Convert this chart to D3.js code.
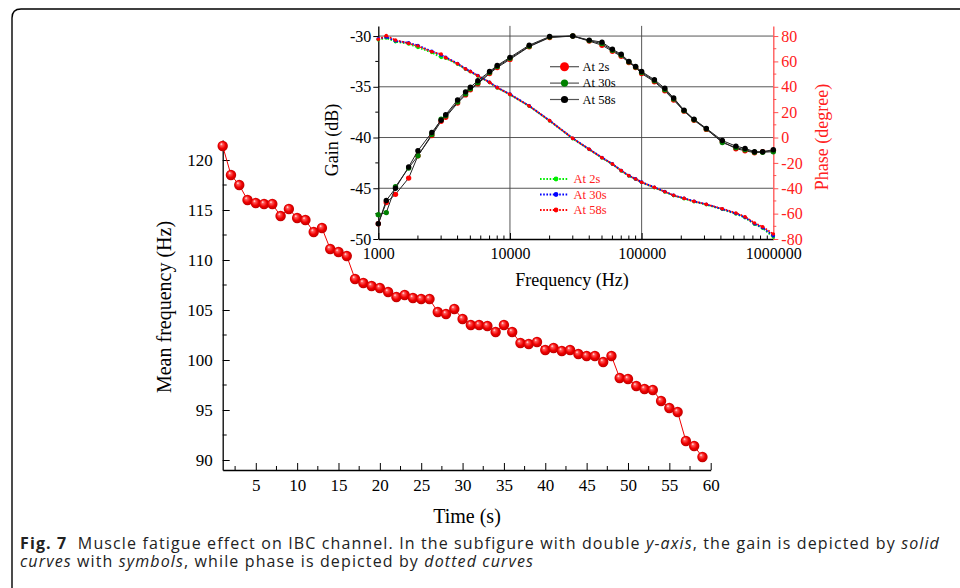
<!DOCTYPE html>
<html>
<head>
<meta charset="utf-8">
<script src="https://cdn.jsdelivr.net/npm/d3@7"></script>
<style>
  body { margin:0; background:#fff; }
  svg text { font-family:'Liberation Serif', 'Times New Roman', serif; }
  svg text.cap { font-family:'Open Sans', 'Noto Sans', sans-serif; }
</style>
</head>
<body>
<script>
// mean frequency vs time (main chart)
var times = d3.range(1, 60);
var meanFreq = [121.4,118.5,117.5,116.0,115.7,115.6,115.6,114.4,115.1,114.2,
  114.0,112.8,113.2,111.1,110.8,110.4,108.1,107.7,107.4,107.2,
  106.8,106.3,106.5,106.2,106.1,106.1,104.8,104.6,105.1,104.1,
  103.5,103.5,103.4,102.8,103.5,102.8,101.7,101.6,101.8,101.0,
  101.2,100.9,101.0,100.6,100.4,100.4,99.8,100.4,98.2,98.1,
  97.4,97.1,97.0,95.9,95.2,94.8,91.9,91.4,90.3];
var timeTicks = [5,10,15,20,25,30,35,40,45,50,55,60];
var freqTicks = [90,95,100,105,110,115,120];

// inset: gain and phase vs frequency
var freqs = [1000,1150,1350,1700,2000,2550,3000,3250,4000,4600,5000,5700,7000,8000,10000,14000,20000,
  30000,40000,50000,60000,70000,80000,90000,100000,125000,150000,175000,210000,250000,310000,
  410000,520000,610000,720000,830000,1000000];
var gain2s = [-48.5,-46.4,-45.6,-44.0,-41.8,-39.8,-38.4,-38.0,-36.6,-35.8,-35.3,-34.7,-33.7,-33.1,-32.3,-31.05,-30.15,
  -30.0,-30.5,-30.9,-31.5,-32.0,-32.6,-33.1,-33.7,-34.5,-35.4,-36.3,-37.4,-38.3,-39.2,
  -40.4,-41.1,-41.3,-41.5,-41.4,-41.3];
var gain30s = [-47.6,-47.4,-44.85,-43.0,-41.8,-39.7,-38.2,-37.85,-36.5,-35.7,-35.2,-34.6,-33.6,-33.0,-32.2,-31.0,-30.1,
  -30.0,-30.45,-30.75,-31.4,-31.9,-32.55,-33.05,-33.6,-34.4,-35.3,-36.2,-37.35,-38.25,-39.15,
  -40.5,-41.0,-41.2,-41.45,-41.45,-41.4];
var gain58s = [-48.5,-46.2,-45.0,-42.9,-41.3,-39.5,-38.3,-37.75,-36.3,-35.5,-35.05,-34.4,-33.5,-32.9,-32.1,-30.9,-30.05,
  -30.0,-30.4,-30.6,-31.3,-31.8,-32.5,-33.0,-33.5,-34.3,-35.15,-36.1,-37.3,-38.2,-39.1,
  -40.3,-40.85,-41.07,-41.4,-41.4,-41.2];
var phase2s = [77.0,78.5,75.6,73.8,71.0,67.0,63.2,62.5,57.8,53.8,51.8,48.5,43.3,39.1,33.8,24.7,13.1,
  -0.9,-9.5,-16.1,-21.1,-26.3,-30.3,-32.9,-35.5,-39.5,-42.9,-45.8,-48.2,-50.6,-53.0,
  -56.6,-60.2,-63.2,-68.4,-71.5,-78.5];
var phase30s = [77.8,79.2,76.2,74.6,72.6,68.0,65.0,63.3,58.4,54.2,52.2,48.9,43.6,39.5,34.2,25.0,13.4,
  -0.6,-9.2,-15.8,-20.8,-26.0,-30.0,-32.6,-35.2,-39.2,-42.6,-45.5,-47.9,-50.2,-52.6,
  -56.4,-59.9,-62.9,-68.0,-71.0,-77.5];
var phase58s = [77.4,80.3,76.8,74.2,72.1,67.6,65.8,62.9,58.2,54.0,52.0,48.7,43.5,39.3,34.0,24.9,13.3,
  -0.7,-9.3,-15.9,-20.9,-26.1,-30.1,-32.7,-35.3,-39.3,-42.7,-45.6,-48.0,-50.3,-52.7,
  -56.1,-59.5,-62.4,-67.4,-70.3,-76.1];
var hzTicks = [1000,10000,100000,1000000];
var gainTicks = [-50,-45,-40,-35,-30];
var phaseTicks = [-80,-60,-40,-20,0,20,40,60,80];
var labels = ['At 2s','At 30s','At 58s'];

// plain hyphen for negatives, like the original
var plain = function(d) { return String(d); };

var svg = d3.select('body').append('svg')
  .attr('width', 960)
  .attr('height', 588);

var defs = svg.append('defs');
var grad = defs.append('radialGradient')
  .attr('id', 'ball')
  .attr('cx', '50%').attr('cy', '50%').attr('r', '55%')
  .attr('fx', '35%').attr('fy', '30%');
grad.append('stop').attr('offset', '0%').attr('stop-color', '#ffffff');
grad.append('stop').attr('offset', '22%').attr('stop-color', '#ff5a5a');
grad.append('stop').attr('offset', '60%').attr('stop-color', '#f00000');
grad.append('stop').attr('offset', '100%').attr('stop-color', '#b30000');

// frame
svg.append('path')
  .attr('d', 'M12,588 V18 Q12,9 21,9 H960')
  .attr('fill', 'none')
  .attr('stroke', '#000')
  .attr('stroke-width', 1.4);

// ---------- main chart ----------
var x = d3.scaleLinear().domain([1, 60]).range([222.7, 710.7]);
var y = d3.scaleLinear().domain([89, 122]).range([470, 140]);

var main = svg.append('g');

var xAxis = main.append('g')
  .attr('transform', 'translate(0,470)')
  .call(d3.axisBottom(x).tickValues(timeTicks).tickFormat(plain).tickSize(-7).tickPadding(9).tickSizeOuter(0));
xAxis.selectAll('text').style('font-size', '17px').attr('fill', '#000');
xAxis.append('g').selectAll('line')
  .data(d3.range(2.5, 60, 5))
  .enter().append('line')
  .attr('x1', function(d) { return x(d); })
  .attr('x2', function(d) { return x(d); })
  .attr('y1', 0).attr('y2', -4)
  .attr('stroke', '#000');

var yAxis = main.append('g')
  .attr('transform', 'translate(222.7,0)')
  .call(d3.axisLeft(y).tickValues(freqTicks).tickFormat(plain).tickSize(-7).tickPadding(10).tickSizeOuter(0));
yAxis.selectAll('text').style('font-size', '17px').attr('fill', '#000');
yAxis.append('g').selectAll('line')
  .data(d3.range(92.5, 122, 5))
  .enter().append('line')
  .attr('y1', function(d) { return y(d); })
  .attr('y2', function(d) { return y(d); })
  .attr('x1', 0).attr('x2', 4)
  .attr('stroke', '#000');
main.selectAll('.domain').attr('stroke-width', 1.3);

main.append('path')
  .datum(meanFreq)
  .attr('fill', 'none')
  .attr('stroke', '#f00000')
  .attr('stroke-width', 1)
  .attr('d', d3.line()
    .x(function(d, i) { return x(times[i]); })
    .y(function(d) { return y(d); }));

main.selectAll('circle.ball')
  .data(meanFreq)
  .enter().append('circle')
  .attr('class', 'ball')
  .attr('cx', function(d, i) { return x(times[i]); })
  .attr('cy', function(d) { return y(d); })
  .attr('r', 5.2)
  .attr('fill', 'url(#ball)');

main.append('text')
  .text('Time (s)')
  .attr('x', 467).attr('y', 523)
  .style('font-size', '20px')
  .style('text-anchor', 'middle');

main.append('text')
  .text('Mean frequency (Hz)')
  .attr('transform', 'translate(171,307) rotate(-90)')
  .style('font-size', '20px')
  .style('text-anchor', 'middle');

// ---------- inset ----------
var fx = d3.scaleLog().domain([1000, 1000000]).range([378.3, 773.3]);
var gy = d3.scaleLinear().domain([-50, -29]).range([239, 25.9]);
var py = d3.scaleLinear().domain([-80, 88]).range([239, 25.9]);

var inset = svg.append('g');

// grid
inset.append('g').selectAll('line')
  .data([-45, -40, -35, -30])
  .enter().append('line')
  .attr('x1', fx(1000)).attr('x2', fx(1000000))
  .attr('y1', function(d) { return gy(d); })
  .attr('y2', function(d) { return gy(d); })
  .attr('stroke', '#444').attr('stroke-width', 0.9);
inset.append('g').selectAll('line')
  .data([10000, 100000])
  .enter().append('line')
  .attr('x1', function(d) { return fx(d); })
  .attr('x2', function(d) { return fx(d); })
  .attr('y1', gy(-50)).attr('y2', gy(-29))
  .attr('stroke', '#444').attr('stroke-width', 0.9);

var fAxis = inset.append('g')
  .attr('transform', 'translate(0,239)')
  .call(d3.axisBottom(fx).tickValues(hzTicks).tickFormat(plain).tickSize(-6).tickPadding(9).tickSizeOuter(0));
fAxis.selectAll('text').style('font-size', '16px').attr('fill', '#000');
var minorHz = [];
[1000, 10000, 100000].forEach(function(dec) {
  for (var k = 2; k < 10; k++) minorHz.push(dec * k);
});
fAxis.append('g').selectAll('line')
  .data(minorHz)
  .enter().append('line')
  .attr('x1', function(d) { return fx(d); })
  .attr('x2', function(d) { return fx(d); })
  .attr('y1', 0).attr('y2', -3.5)
  .attr('stroke', '#000');

var gAxis = inset.append('g')
  .attr('transform', 'translate(378.3,0)')
  .call(d3.axisLeft(gy).tickValues(gainTicks).tickFormat(plain).tickSize(5).tickPadding(2).tickSizeOuter(0));
gAxis.selectAll('text').style('font-size', '16px').attr('fill', '#000');
gAxis.append('g').selectAll('line')
  .data([-47.5, -42.5, -37.5, -32.5])
  .enter().append('line')
  .attr('y1', function(d) { return gy(d); })
  .attr('y2', function(d) { return gy(d); })
  .attr('x1', 0).attr('x2', -3)
  .attr('stroke', '#000');

var pAxis = inset.append('g')
  .attr('transform', 'translate(773.3,0)')
  .call(d3.axisRight(py).tickValues(phaseTicks).tickFormat(plain).tickSize(5).tickPadding(3).tickSizeOuter(0));
pAxis.selectAll('text').style('font-size', '16px').attr('fill', '#ff2020');
pAxis.selectAll('line').attr('stroke', '#ff5050');
pAxis.select('.domain').attr('stroke', '#ff5050');
pAxis.append('g').selectAll('line')
  .data(d3.range(-70, 88, 20))
  .enter().append('line')
  .attr('y1', function(d) { return py(d); })
  .attr('y2', function(d) { return py(d); })
  .attr('x1', 0).attr('x2', 3)
  .attr('stroke', '#ff5050');
inset.selectAll('.domain').attr('stroke-width', 1.3);

// phase curves (dotted)
var phaseSeries = [
  {vals: phase2s, color: '#00ee00'},
  {vals: phase30s, color: '#0000ff'},
  {vals: phase58s, color: '#ff0000'}
];
var phaseLine = d3.line()
  .x(function(d, i) { return fx(freqs[i]); })
  .y(function(d) { return py(d); });
phaseSeries.forEach(function(s) {
  inset.append('path')
    .datum(s.vals)
    .attr('fill', 'none')
    .attr('stroke', s.color)
    .attr('stroke-width', 1.8)
    .attr('stroke-dasharray', '1.6,1.6')
    .attr('d', phaseLine);
  inset.append('g').selectAll('circle')
    .data(s.vals)
    .enter().append('circle')
    .attr('cx', function(d, i) { return fx(freqs[i]); })
    .attr('cy', function(d) { return py(d); })
    .attr('r', 1.8)
    .attr('fill', s.color);
});

// gain curves (solid with symbols)
var gainSeries = [
  {vals: gain2s, color: '#ff0000'},
  {vals: gain30s, color: '#008000'},
  {vals: gain58s, color: '#000000'}
];
var gainLine = d3.line()
  .x(function(d, i) { return fx(freqs[i]); })
  .y(function(d) { return gy(d); });
gainSeries.forEach(function(s) {
  inset.append('path')
    .datum(s.vals)
    .attr('fill', 'none')
    .attr('stroke', '#222')
    .attr('stroke-width', 1)
    .attr('d', gainLine);
  inset.append('g').selectAll('circle')
    .data(s.vals)
    .enter().append('circle')
    .attr('cx', function(d, i) { return fx(freqs[i]); })
    .attr('cy', function(d) { return gy(d); })
    .attr('r', 2.7)
    .attr('fill', s.color);
});

// gain legend
var gLeg = inset.append('g');
gainSeries.forEach(function(s, i) {
  var ly = 66.7 + i * 16.4;
  gLeg.append('line')
    .attr('x1', 550).attr('x2', 579).attr('y1', ly).attr('y2', ly)
    .attr('stroke', '#555').attr('stroke-width', 1.2);
  gLeg.append('circle')
    .attr('cx', 564.5).attr('cy', ly)
    .attr('r', i === 0 ? 4.5 : 3.6)
    .attr('fill', s.color);
  gLeg.append('text')
    .text(labels[i])
    .attr('x', 582.5).attr('y', ly + 4)
    .style('font-size', '12.5px');
});

// phase legend
var pLeg = inset.append('g');
phaseSeries.forEach(function(s, i) {
  var ly = 179 + i * 15.5;
  pLeg.append('line')
    .attr('x1', 540).attr('x2', 568).attr('y1', ly).attr('y2', ly)
    .attr('stroke', s.color).attr('stroke-width', 1.8)
    .attr('stroke-dasharray', '1.6,1.6');
  pLeg.append('circle')
    .attr('cx', 556).attr('cy', ly)
    .attr('r', 2.4)
    .attr('fill', s.color);
  pLeg.append('text')
    .text(labels[i])
    .attr('x', 573.5).attr('y', ly + 4)
    .attr('fill', '#ff2020')
    .style('font-size', '12.5px');
});

inset.append('text')
  .text('Frequency (Hz)')
  .attr('x', 572).attr('y', 286)
  .style('font-size', '18px')
  .style('text-anchor', 'middle');

inset.append('text')
  .text('Gain (dB)')
  .attr('transform', 'translate(338,140) rotate(-90)')
  .style('font-size', '18px')
  .style('text-anchor', 'middle');

inset.append('text')
  .text('Phase (degree)')
  .attr('transform', 'translate(828,137) rotate(-90)')
  .attr('fill', '#ff2020')
  .style('font-size', '18px')
  .style('text-anchor', 'middle');

// ---------- caption ----------
var cap1 = svg.append('text')
  .attr('class', 'cap')
  .attr('x', 20).attr('y', 549)
  .style('font-size', '16px')
  .attr('fill', '#222');
cap1.append('tspan').text('Fig. 7').style('font-weight', 'bold');
cap1.append('tspan').text('\u00a0\u00a0Muscle fatigue effect on IBC channel. In the subfigure with double ');
cap1.append('tspan').text('y-axis').style('font-style', 'italic');
cap1.append('tspan').text(', the gain is depicted by ');
cap1.append('tspan').text('solid').style('font-style', 'italic');

var cap2 = svg.append('text')
  .attr('class', 'cap')
  .attr('x', 20).attr('y', 567)
  .style('font-size', '16px')
  .attr('fill', '#222');
cap2.append('tspan').text('curves').style('font-style', 'italic');
cap2.append('tspan').text(' with ');
cap2.append('tspan').text('symbols').style('font-style', 'italic');
cap2.append('tspan').text(', while phase is depicted by ');
cap2.append('tspan').text('dotted curves').style('font-style', 'italic');

// stretch the caption so the first line spans the same width as the original
var w1 = cap1.node().getComputedTextLength();
var n1 = cap1.node().textContent.length;
var ls = Math.max(0, (920 - w1) / n1);
cap1.style('letter-spacing', ls + 'px');
cap2.style('letter-spacing', ls + 'px');
</script>
</body>
</html>
